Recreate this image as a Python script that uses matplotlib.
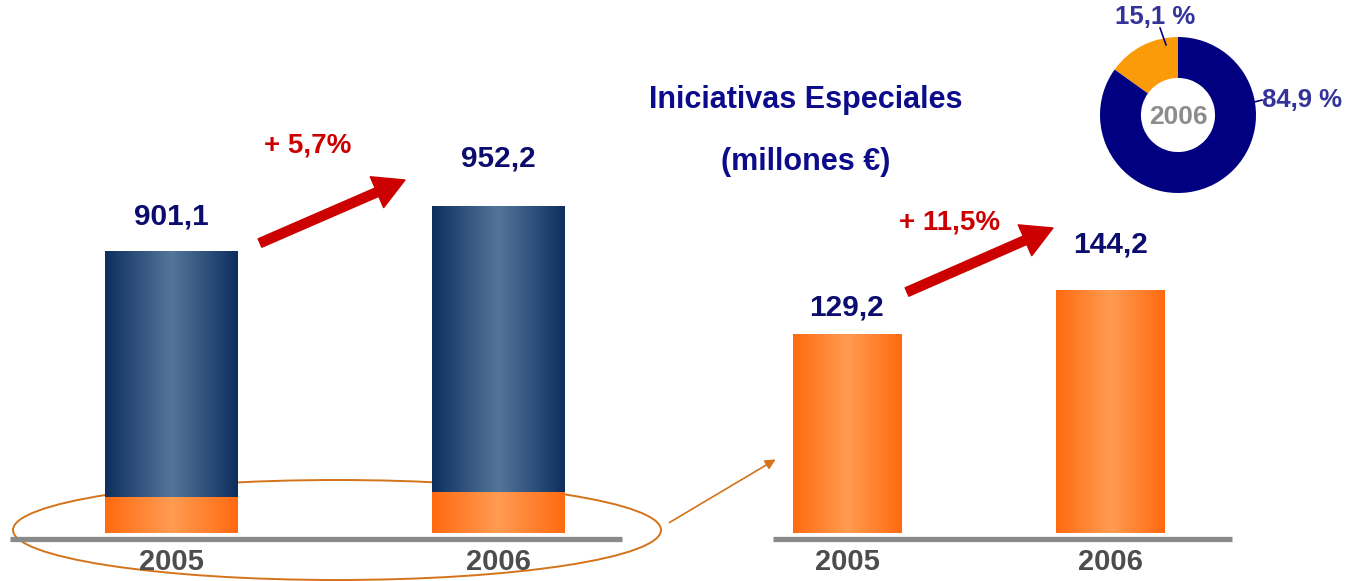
import numpy as np
import matplotlib
matplotlib.use('Agg')
import matplotlib.pyplot as plt
from matplotlib.patches import Ellipse, FancyArrowPatch
from matplotlib.colors import LinearSegmentedColormap

# Data
years = ['2005', '2006']
total_values = [901.1, 952.2]          # left chart (blue bars)
special_values = [129.2, 144.2]        # Iniciativas Especiales (orange)
total_labels = ['901,1', '952,2']
special_labels = ['129,2', '144,2']
growth_total = '+ 5,7%'
growth_special = '+ 11,5%'
share_values = [15.1, 84.9]            # donut 2006
share_labels = ['15,1 %', '84,9 %']

W, H = 1350, 581
plt.rcParams['font.family'] = ['Liberation Sans', 'DejaVu Sans']
plt.rcParams['font.weight'] = 'bold'

NAVY = '#0c0c6e'
RED = '#cc0000'
GREY = '#4d4d4d'
BROWN = '#d4731a'

blue_cmap = LinearSegmentedColormap.from_list('b', ['#0c2f5f', '#55769a', '#0c2f5f'])
orange_cmap = LinearSegmentedColormap.from_list('o', ['#ff6a10', '#ff9c52', '#ff6a10'])


def box(x0, y0, x1, y1):
    return [x0 / W, 1 - y1 / H, (x1 - x0) / W, (y1 - y0) / H]


def gradient_bars(ax, bars, cmap):
    grad = np.linspace(0, 1, 256)[None, :]
    for b in bars:
        x0, y0 = b.get_x(), b.get_y()
        w, h = b.get_width(), b.get_height()
        ax.imshow(grad, cmap=cmap, extent=[x0, x0 + w, y0, y0 + h],
                  aspect='auto', zorder=2, interpolation='bicubic')
        b.set_visible(False)


def clean(ax):
    for s in ax.spines.values():
        s.set_visible(False)
    ax.set_yticks([])
    ax.patch.set_visible(False)


def baseline(ax):
    ax.plot([0, 1], [-0.015, -0.015], transform=ax.transAxes, color='#8a8a8a',
            lw=3.8, clip_on=False, solid_capstyle='butt', zorder=3)


def year_ticks(ax):
    ax.set_xticks(range(len(years)))
    ax.set_xticklabels(years, fontsize=21, fontweight='bold', color=GREY)
    ax.tick_params(axis='x', length=0, pad=11)


fig = plt.figure(figsize=(13.5, 5.81), dpi=100)

# ---- left chart: total with special initiatives at the bottom
ax1 = fig.add_axes(box(10, 133, 622, 533))
x = np.arange(len(years))
bars = ax1.bar(x, total_values, width=0.407)
gradient_bars(ax1, bars, blue_cmap)
ax1.set_xlim(-0.4946, 1.3798)
ax1.set_ylim(581, 581 + 400 / 0.8806)
clean(ax1)
year_ticks(ax1)
baseline(ax1)
for i, (v, lab, off) in enumerate(zip(total_values, total_labels, [25, 34])):
    ax1.annotate(lab, xy=(i, v), xytext=(0, off), textcoords='offset points',
                 ha='center', va='center', fontsize=21.5, color=NAVY, fontweight='bold')

ax1b = ax1.twinx()
sbars = ax1b.bar(x, special_values, width=0.407)
gradient_bars(ax1b, sbars, orange_cmap)
ax1b.set_xlim(-0.4946, 1.3798)
ax1b.set_ylim(0, 400 / 0.2774)
clean(ax1b)

ax1.annotate('', xy=(0.6454, 0.8825), xytext=(0.4085, 0.725), xycoords='axes fraction',
             arrowprops=dict(arrowstyle='simple,head_length=1.0,head_width=1.1,tail_width=0.3',
                             mutation_scale=22, color=RED, shrinkA=0, shrinkB=0))
ax1.text(0.487, 0.97, growth_total, transform=ax1.transAxes, ha='center', va='center',
         fontsize=20, color=RED, fontweight='bold')

# ---- right chart: special initiatives
ax2 = fig.add_axes(box(773, 133, 1232, 533))
rbars = ax2.bar(x, special_values, width=0.41)
gradient_bars(ax2, rbars, orange_cmap)
ax2.set_xlim(-0.2808, 1.4611)
ax2.set_ylim(61.4, 61.4 + 400 / 2.933)
clean(ax2)
year_ticks(ax2)
baseline(ax2)
for i, (v, lab, off) in enumerate(zip(special_values, special_labels, [19, 33])):
    ax2.annotate(lab, xy=(i, v), xytext=(0, off), textcoords='offset points',
                 ha='center', va='center', fontsize=21.5, color=NAVY, fontweight='bold')
ax2.annotate('', xy=(0.610, 0.7625), xytext=(0.292, 0.6025), xycoords='axes fraction',
             arrowprops=dict(arrowstyle='simple,head_length=1.0,head_width=1.1,tail_width=0.3',
                             mutation_scale=22, color=RED, shrinkA=0, shrinkB=0))
ax2.text(0.3856, 0.7775, growth_special, transform=ax2.transAxes, ha='center', va='center',
         fontsize=20, color=RED, fontweight='bold')

# ---- title
fig.text(806 / W, 1 - 100 / H, 'Iniciativas Especiales', ha='center', va='center',
         fontsize=22, color='#0b0b8c', fontweight='bold')
fig.text(806 / W, 1 - 162 / H, '(millones €)', ha='center', va='center',
         fontsize=22, color='#0b0b8c', fontweight='bold')

# ---- donut
ax3 = fig.add_axes(box(1100, 37, 1256, 193))
wedges, _ = ax3.pie(share_values, colors=['#fb9b0a', '#000080'], startangle=90,
                    counterclock=True, radius=1, wedgeprops=dict(width=0.525))
ax3.set_aspect('equal')
ax3.set_xlim(-1, 1)
ax3.set_ylim(-1, 1)
ax3.axis('off')
ax3.text(0, -0.02, '2006', ha='center', va='center', fontsize=19, color='#8c8c8c',
         fontweight='bold')
# leader lines
ax3.plot([-0.154, -0.23], [0.90, 1.115], color='#000080', lw=1.2, clip_on=False)
ax3.plot([0.93, 1.077], [0.154, 0.192], color='#000080', lw=1.2, clip_on=False)
ax3.text(-0.295, 1.25, share_labels[0], ha='center', va='center', fontsize=18.5,
         color='#333399', fontweight='bold')
ax3.text(1.08, 0.192, share_labels[1], ha='left', va='center', fontsize=18.5,
         color='#333399', fontweight='bold')

# ---- ellipse around the orange segments and connector arrow
ell = Ellipse((337 / W, 1 - 530 / H), 648 / W, 100 / H, transform=fig.transFigure,
              fill=False, edgecolor=BROWN, lw=1.4, zorder=-1)
fig.add_artist(ell)
fig.add_artist(FancyArrowPatch(
    (667 / W, 1 - 524 / H), (778 / W, 1 - 458 / H), transform=fig.transFigure,
    arrowstyle='-|>,head_length=6,head_width=3', color=BROWN, lw=1.2))

fig.savefig('out.png', dpi=100)
plt.close(fig)
